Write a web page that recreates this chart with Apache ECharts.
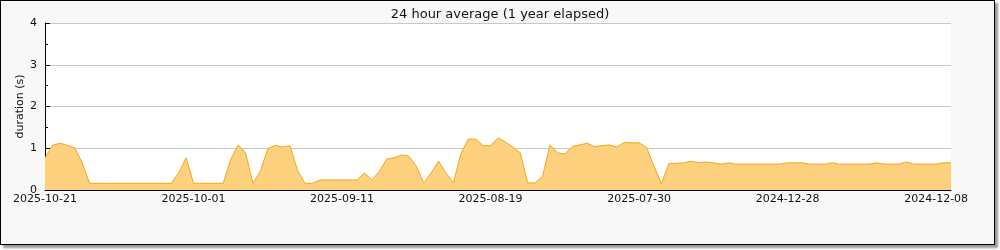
<!DOCTYPE html>
<html>
<head>
<meta charset="utf-8">
<script src="https://cdn.jsdelivr.net/npm/echarts@6/dist/echarts.min.js"></script>
<style>
  html, body { margin: 0; padding: 0; background: #ffffff; }
  #frame { position: absolute; left: 0; top: 0; width: 993px; height: 243px; border: 1px solid #000; background: #f8f8f8; box-shadow: 3px 3px 2px #999; }
  #chart { position: absolute; left: 0; top: 0; width: 1000px; height: 250px; }
</style>
</head>
<body>
<div id="frame"></div>
<div id="chart"></div>
<script>
const titleText = '24 hour average (1 year elapsed)';
const yAxisName = 'duration (s)';
// date labels shown every 20th category
const tickLabels = ['2025-10-21', '2025-10-01', '2025-09-11', '2025-08-19', '2025-07-30', '2024-12-28', '2024-12-08'];
const labelEvery = 20;
const durations = [
  0.77, 1.07, 1.12, 1.07, 1.01, 0.66, 0.16, 0.16, 0.16, 0.16,
  0.16, 0.16, 0.16, 0.16, 0.16, 0.16, 0.16, 0.16, 0.41, 0.77,
  0.16, 0.16, 0.16, 0.16, 0.16, 0.73, 1.08, 0.89, 0.16, 0.45,
  0.99, 1.07, 1.03, 1.06, 0.47, 0.16, 0.16, 0.24, 0.24, 0.24,
  0.24, 0.24, 0.24, 0.41, 0.24, 0.44, 0.74, 0.77, 0.84, 0.81,
  0.57, 0.17, 0.41, 0.69, 0.41, 0.17, 0.87, 1.22, 1.22, 1.06,
  1.06, 1.25, 1.15, 1.03, 0.89, 0.17, 0.17, 0.33, 1.08, 0.89,
  0.86, 1.04, 1.08, 1.12, 1.04, 1.06, 1.08, 1.03, 1.14, 1.13,
  1.13, 1.02, 0.58, 0.15, 0.63, 0.64, 0.65, 0.69, 0.65, 0.67,
  0.65, 0.62, 0.65, 0.62, 0.62, 0.62, 0.62, 0.62, 0.62, 0.62,
  0.65, 0.65, 0.65, 0.62, 0.62, 0.62, 0.65, 0.62, 0.62, 0.62,
  0.62, 0.62, 0.65, 0.62, 0.62, 0.62, 0.67, 0.62, 0.62, 0.62,
  0.62, 0.65, 0.65
];
const categories = durations.map((_, i) => (i % labelEvery === 0 && tickLabels[i / labelEvery]) ? tickLabels[i / labelEvery] : String(i));

const chart = echarts.init(document.getElementById('chart'), null, { renderer: 'canvas' });
const font = 'DejaVu Sans';
chart.setOption({
  animation: false,
  backgroundColor: 'transparent',
  textStyle: { fontFamily: font },
  title: {
    text: titleText, left: 'center', top: 3,
    textStyle: { fontFamily: font, fontSize: 13, fontWeight: 'normal', color: '#111' }
  },
  grid: { left: 45, right: 49, top: 23, bottom: 60, show: true, backgroundColor: '#ffffff', borderWidth: 0 },
  xAxis: {
    type: 'category', data: categories, boundaryGap: false,
    axisLine: { lineStyle: { color: '#000', width: 1 } },
    axisTick: { inside: true, interval: 9, length: 6, lineStyle: { color: '#000' } },
    axisLabel: { interval: labelEvery - 1, margin: 4, fontFamily: font, fontSize: 11, color: '#111',
      formatter: (v, i) => (i % labelEvery === 0) ? v : '' },
    splitLine: { show: false }
  },
  yAxis: {
    type: 'value', min: 0, max: 4, interval: 1,
    name: yAxisName, nameLocation: 'middle', nameGap: 19, nameMoveOverlap: false,
    nameTextStyle: { fontFamily: font, fontSize: 11, color: '#111' },
    axisLine: { show: true, lineStyle: { color: '#000', width: 1 } },
    axisTick: { show: true, inside: true, length: 5, lineStyle: { color: '#000' } },
    minorTick: { show: true, splitNumber: 2, length: 3, lineStyle: { color: '#000' } },
    axisLabel: { margin: 8, fontFamily: font, fontSize: 11, color: '#111' },
    splitLine: { show: true, lineStyle: { color: '#c8c8c8', width: 1 } }
  },
  series: [{
    type: 'line', data: durations, symbol: 'none', smooth: false,
    lineStyle: { color: '#f7a51c', width: 1 },
    areaStyle: { color: '#fdd17e', opacity: 1 }
  }]
});
</script>
</body>
</html>
